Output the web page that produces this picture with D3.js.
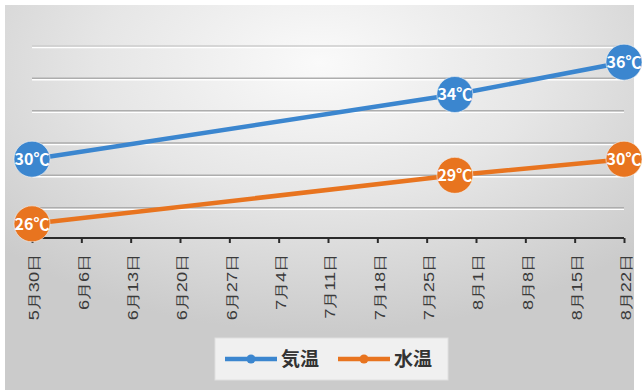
<!DOCTYPE html>
<html>
<head>
<meta charset="utf-8">
<script src="https://cdn.jsdelivr.net/npm/d3@7"></script>
<style>
body { margin: 0; background: #fff; }
svg { display: block; font-family: "Noto Sans CJK JP", "Noto Sans", sans-serif; }
</style>
</head>
<body>
<script>
var w = 642;
var h = 392;

// data
var pointDates = ["2019-05-30", "2019-07-29", "2019-08-22"];
var airTemp = [30, 34, 36];
var waterTemp = [26, 29, 30];
var seriesNames = ["気温", "水温"];
var tickDates = ["2019-05-30", "2019-06-06", "2019-06-13", "2019-06-20", "2019-06-27", "2019-07-04",
  "2019-07-11", "2019-07-18", "2019-07-25", "2019-08-01", "2019-08-08", "2019-08-15", "2019-08-22"];
var gridValues = [27, 29, 31, 33, 35, 37];

var colors = ["#3b86cf", "#e8741f"];
var parse = d3.timeParse("%Y-%m-%d");

var svg = d3.select("body").append("svg")
  .attr("width", w)
  .attr("height", h);

var defs = svg.append("defs");
var grad = defs.append("radialGradient")
  .attr("id", "bg")
  .attr("cx", "50%").attr("cy", "15%").attr("r", "70%");
grad.append("stop").attr("offset", "0%").attr("stop-color", "#fafafa");
grad.append("stop").attr("offset", "50%").attr("stop-color", "#e6e6e6");
grad.append("stop").attr("offset", "100%").attr("stop-color", "#cbcbcb");

svg.append("rect")
  .attr("x", 5).attr("y", 5)
  .attr("width", 629).attr("height", 385)
  .attr("fill", "url(#bg)");

var x = d3.scaleTime()
  .domain([parse(tickDates[0]), parse(tickDates[tickDates.length - 1])])
  .range([32, 624]);

var y = d3.scaleLinear()
  .domain([25, 37])
  .range([240, 46]);

// grid lines
var grid = svg.append("g");
grid.selectAll(".gl")
  .data(gridValues)
  .enter().append("line")
  .attr("x1", 32).attr("x2", 624)
  .attr("y1", function (d) { return y(d) + 1.5; })
  .attr("y2", function (d) { return y(d) + 1.5; })
  .attr("stroke", "#ffffff").attr("stroke-width", 1.5);
grid.selectAll(".gd")
  .data(gridValues)
  .enter().append("line")
  .attr("x1", 32).attr("x2", 624)
  .attr("y1", function (d) { return y(d); })
  .attr("y2", function (d) { return y(d); })
  .attr("stroke", function (d) { return d == 37 ? "#cccccc" : "#adadad"; })
  .attr("stroke-width", 1.5);

// x axis
var xAxis = d3.axisBottom(x)
  .tickValues(tickDates.map(parse))
  .tickSize(5)
  .tickFormat(function (d) { return (d.getMonth() + 1) + "月" + d.getDate() + "日"; });

var ax = svg.append("g")
  .attr("transform", "translate(0," + 238 + ")")
  .call(xAxis);
ax.select(".domain").attr("stroke", "#2a2a2a").attr("stroke-width", 2.2)
  .attr("d", "M30,0H624");
ax.selectAll(".tick line").attr("stroke", "#2a2a2a").attr("stroke-width", 2);
ax.selectAll(".tick text")
  .attr("fill", "#3a3a3a")
  .attr("font-size", 14)
  .attr("text-anchor", "end")
  .attr("transform", "translate(2,16) rotate(-90) scale(1.3,1)")
  .attr("x", 0).attr("y", 0).attr("dy", "0.35em");

// lines
var series = [airTemp, waterTemp];
var line = d3.line()
  .x(function (d, i) { return x(parse(pointDates[i])); })
  .y(function (d) { return y(d); });

series.forEach(function (vals, s) {
  var g = svg.append("g");
  g.append("path")
    .datum(vals)
    .attr("d", line)
    .attr("fill", "none")
    .attr("stroke", colors[s])
    .attr("stroke-width", 4.5);
  g.selectAll("circle")
    .data(vals)
    .enter().append("circle")
    .attr("cx", function (d, i) { return x(parse(pointDates[i])); })
    .attr("cy", function (d) { return y(d); })
    .attr("r", 18)
    .attr("fill", colors[s])
    .attr("stroke", "#f3f3f3").attr("stroke-opacity", 0.6).attr("stroke-width", 1);
  g.selectAll("text")
    .data(vals)
    .enter().append("text")
    .attr("x", function (d, i) { return x(parse(pointDates[i])); })
    .attr("y", function (d) { return y(d); })
    .attr("dy", "0.36em")
    .attr("text-anchor", "middle")
    .attr("fill", "#ffffff")
    .attr("font-size", 16)
    .attr("font-weight", "bold")
    .text(function (d) { return d + "℃"; });
});

// legend
var lg = svg.append("g");
lg.append("rect")
  .attr("x", 215).attr("y", 338)
  .attr("width", 233).attr("height", 42)
  .attr("fill", "#f0f0f0").attr("stroke", "#e0e0e0");
var legX = [225, 338];
seriesNames.forEach(function (name, s) {
  lg.append("line")
    .attr("x1", legX[s]).attr("x2", legX[s] + 52)
    .attr("y1", 359).attr("y2", 359)
    .attr("stroke", colors[s]).attr("stroke-width", 4.5);
  lg.append("circle")
    .attr("cx", legX[s] + 26).attr("cy", 359).attr("r", 4.5)
    .attr("fill", colors[s]);
  lg.append("text")
    .attr("x", legX[s] + 56).attr("y", 359)
    .attr("dy", "0.36em")
    .attr("fill", "#333")
    .attr("font-size", 19)
    .attr("font-weight", "bold")
    .text(name);
});
</script>
</body>
</html>
